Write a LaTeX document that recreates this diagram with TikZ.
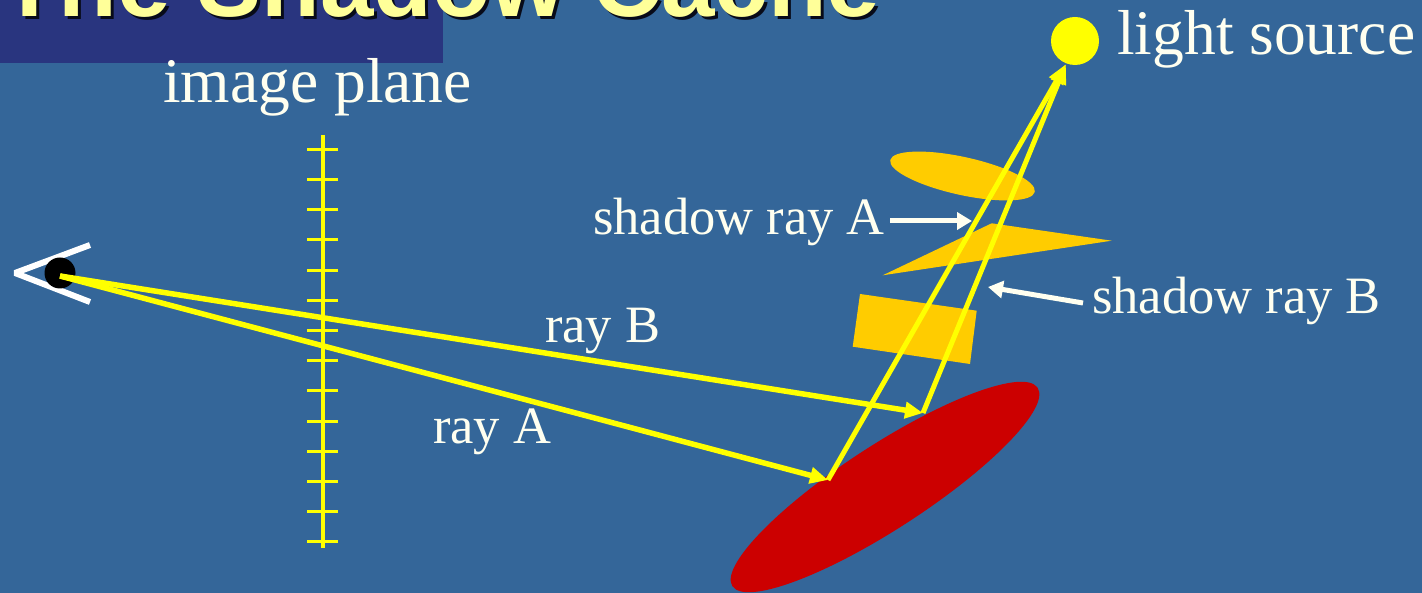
\documentclass[tikz,border=0pt]{standalone}
\usepackage{fontspec}
\setmainfont{Liberation Serif}
\newfontfamily\titlefont{Liberation Sans}
\usetikzlibrary{arrows.meta}
\definecolor{bgblue}{HTML}{346699}
\definecolor{titlebox}{HTML}{29357F}
\definecolor{titleyellow}{HTML}{FFFF99}
\definecolor{rayyellow}{HTML}{FFFF00}
\definecolor{objorange}{HTML}{FFCC00}
\definecolor{objred}{HTML}{CC0000}
\definecolor{labelwhite}{HTML}{FFFFF0}
\begin{document}
\begin{tikzpicture}[x=1pt,y=-1pt,
  bigtext/.style={font=\fontsize{63.5}{70}\selectfont, text=labelwhite, inner sep=0pt, anchor=base west},
  smalltext/.style={font=\fontsize{52.5}{60}\selectfont, text=labelwhite, inner sep=0pt, anchor=base west},
  titletext/.style={font=\titlefont\bfseries\fontsize{96}{100}\selectfont, inner sep=0pt, anchor=base west},
  ray/.style={draw=rayyellow, line width=5.5pt, -{Triangle[length=18pt,width=16pt]}},
  shadowray/.style={draw=rayyellow, line width=5pt, -{Triangle[length=20pt,width=15pt]}},
  pointer/.style={draw=labelwhite, line width=5pt, -{Triangle[length=15pt,width=17pt]}},
  planetick/.style={draw=rayyellow, line width=3pt},
]
\useasboundingbox (0,0) rectangle (1422,593);
\fill[bgblue] (0,0) rectangle (1422,593);
\fill[titlebox] (0,0) rectangle (443,63);
\node[titletext, text=black!80!titlebox] (titleshadow) at (3,20) {The Shadow Cache};
\node[titletext, text=titleyellow] (title) at (0,17) {The Shadow Cache};

% objects
\fill[objred, rotate around={33:(885,487)}] (885,487) ellipse [x radius=182, y radius=42];
\fill[objorange, rotate around={-12.4:(962.5,176)}] (962.5,176) ellipse [x radius=74, y radius=19];
\fill[objorange] (991.7,223.3) -- (1111.7,240.7) -- (882.7,275.3) -- cycle;
\fill[objorange] (860,294) -- (976.7,310.7) -- (970,364) -- (852.7,346.7) -- cycle;

% image plane
\draw[rayyellow, line width=4pt] (323,135) -- (323,548);
\foreach \i in {0,...,13} {
  \draw[planetick] (307,149.3+30.2*\i) -- (338,149.3+30.2*\i);
}

% eye
\draw[white, line width=6pt, line join=bevel] (90,245) -- (15,273) -- (90,302);
\node[circle, fill=black, minimum size=31pt, inner sep=0pt] (eye) at (60,273) {};

% light
\node[circle, fill=rayyellow, minimum size=48pt, inner sep=0pt] (light) at (1075,41) {};
\coordinate (ltip) at (1066,64);

% hit points
\coordinate (hitA) at (828,480);
\coordinate (hitB) at (923,413);

% rays
\draw[ray] ([yshift=-3pt]eye.center) -- (hitA);
\draw[ray] ([yshift=-3pt]eye.center) -- (hitB);
\draw[shadowray] (hitA) -- (ltip);
\draw[shadowray] (hitB) -- (ltip);

% labels
\node[bigtext] (lplane) at (163,103) {image plane};
\node[bigtext] (llight) at (1117,55) {light source};
\node[smalltext] (lsrA) at (593,235) {shadow ray A};
\node[smalltext] (lsrB) at (1092,314) {shadow ray B};
\node[smalltext] (lrayB) at (545,343) {ray B};
\node[smalltext] (lrayA) at (433,443) {ray A};

% pointers
\coordinate (pAtail) at (890,221);
\coordinate (pAtip) at (972,221);
\coordinate (pBtail) at (1083,303);
\coordinate (pBtip) at (988,287);
\draw[pointer] (pAtail) -- (pAtip);
\draw[pointer] (pBtail) -- (pBtip);
\end{tikzpicture}
\end{document}
